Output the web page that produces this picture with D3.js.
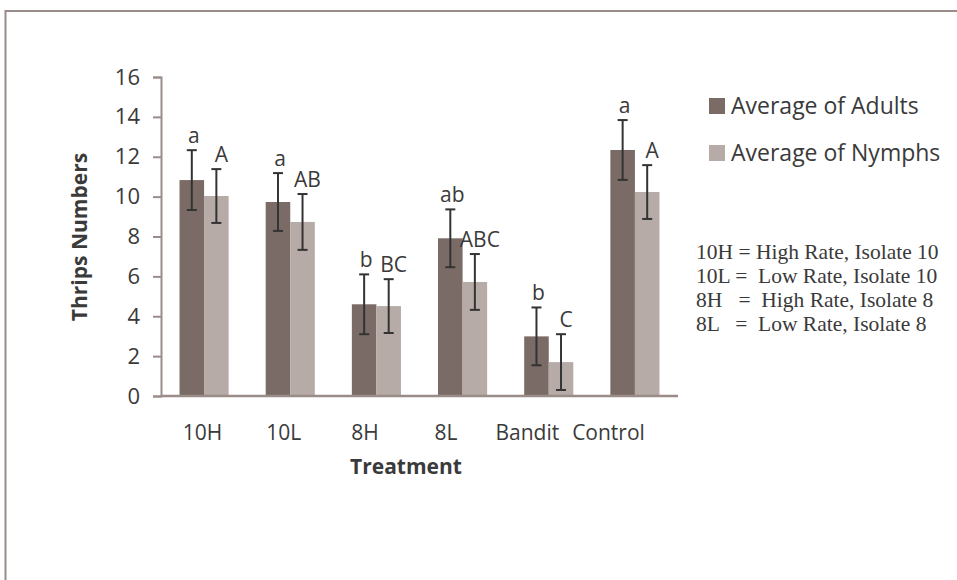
<!DOCTYPE html>
<html>
<head>
<meta charset="utf-8">
<script src="https://cdn.jsdelivr.net/npm/d3@7"></script>
<style>
  html, body { margin: 0; padding: 0; background: #fff; }
  svg { display: block; }
</style>
</head>
<body>
<svg id="chart" width="957" height="580"></svg>
<script>
// ---- data ----
const categories = ["10H", "10L", "8H", "8L", "Bandit", "Control"];
const seriesNames = ["Average of Adults", "Average of Nymphs"];
const adults = [10.83, 9.73, 4.6, 7.91, 2.99, 12.34];
const nymphs = [10.03, 8.73, 4.51, 5.72, 1.7, 10.23];
const adultsErr = [1.5, 1.45, 1.5, 1.45, 1.45, 1.5];
const nymphsErr = [1.35, 1.4, 1.35, 1.4, 1.4, 1.35];
const adultsLetters = ["a", "a", "b", "ab", "b", "a"];
const nymphsLetters = ["A", "AB", "BC", "ABC", "C", "A"];
const yTicks = [0, 2, 4, 6, 8, 10, 12, 14, 16];
const noteLines = [
  "10H = High Rate, Isolate 10",
  "10L =  Low Rate, Isolate 10",
  "8H   =  High Rate, Isolate 8",
  "8L   =  Low Rate, Isolate 8"
];

// ---- styles ----
const colAdults = "#7a6b67";
const colNymphs = "#b6aba7";
const axisCol = "#9a8c89";
const textCol = "#3a3a3a";
const sans = "'Open Sans', 'Noto Sans', sans-serif";
const serif = "'Liberation Serif', 'Times New Roman', serif";

const svg = d3.select("#chart");

// outer frame (only top and left edges visible)
svg.append("rect")
  .attr("x", 5.5).attr("y", 11)
  .attr("width", 1000).attr("height", 700)
  .attr("fill", "none").attr("stroke", axisCol).attr("stroke-width", 2);

const x0 = d3.scaleBand().domain(categories).range([161, 678]).padding(0);
const bw = x0.bandwidth();
const x1 = d3.scaleBand().domain(seriesNames).range([bw * 0.215, bw * 0.785]).padding(0);
const y = d3.scaleLinear().domain([0, 16]).range([396, 77]);
// category labels are spaced a little tighter than the bars in the original
const xLab = d3.scalePoint().domain(categories).range([202, 608]);

const series = [
  { name: seriesNames[0], values: adults, err: adultsErr, letters: adultsLetters, color: colAdults, dx: 2 },
  { name: seriesNames[1], values: nymphs, err: nymphsErr, letters: nymphsLetters, color: colNymphs, dx: 5 }
];

// bars
const g = svg.append("g");
series.forEach(s => {
  const rows = categories.map((c, i) => ({ c, v: s.values[i], e: s.err[i], l: s.letters[i] }));
  g.selectAll(null).data(rows).enter().append("rect")
    .attr("x", d => x0(d.c) + x1(s.name))
    .attr("y", d => y(d.v))
    .attr("width", x1.bandwidth())
    .attr("height", d => y(0) - y(d.v))
    .attr("fill", s.color);
});

// y axis
const yAxis = d3.axisLeft(y).tickValues(yTicks).tickSize(8).tickPadding(13).tickFormat(d3.format("d"));
const yg = svg.append("g").attr("transform", "translate(161,0)").call(yAxis);
yg.select(".domain").attr("stroke", axisCol).attr("stroke-width", 2);
yg.selectAll(".tick line").attr("stroke", axisCol).attr("stroke-width", 2);
yg.selectAll(".tick text").attr("fill", textCol).attr("font-family", sans).attr("font-size", 22);

// x axis
const xAxis = d3.axisBottom(xLab).tickSize(0).tickPadding(0);
const xg = svg.append("g").attr("transform", "translate(0,396)").call(xAxis);
xg.select(".domain").remove();
xg.selectAll(".tick text").attr("fill", textCol).attr("font-family", sans).attr("font-size", 21)
  .attr("dy", 0).attr("y", 44);
svg.append("line").attr("x1", x0.range()[0]).attr("x2", x0.range()[1]).attr("y1", y(0)).attr("y2", y(0))
  .attr("stroke", axisCol).attr("stroke-width", 2.5);

// error bars + letters
series.forEach(s => {
  const rows = categories.map((c, i) => ({ c, v: s.values[i], e: s.err[i], l: s.letters[i] }));
  const cx = d => x0(d.c) + x1(s.name) + x1.bandwidth() / 2;
  const eg = g.selectAll(null).data(rows).enter().append("g").attr("stroke", "#333").attr("stroke-width", 2);
  eg.append("line").attr("x1", cx).attr("x2", cx).attr("y1", d => y(d.v + d.e)).attr("y2", d => y(d.v - d.e));
  eg.append("line").attr("x1", d => cx(d) - 5).attr("x2", d => cx(d) + 5).attr("y1", d => y(d.v + d.e)).attr("y2", d => y(d.v + d.e));
  eg.append("line").attr("x1", d => cx(d) - 5).attr("x2", d => cx(d) + 5).attr("y1", d => y(d.v - d.e)).attr("y2", d => y(d.v - d.e));
  g.selectAll(null).data(rows).enter().append("text")
    .attr("x", d => cx(d) + s.dx)
    .attr("y", d => y(d.v + d.e) - 7)
    .attr("text-anchor", "middle")
    .attr("font-family", sans).attr("font-size", 21).attr("fill", textCol)
    .text(d => d.l);
});

// axis titles
svg.append("text").attr("x", 406).attr("y", 474).attr("text-anchor", "middle")
  .attr("font-family", sans).attr("font-weight", "bold").attr("font-size", 21).attr("fill", textCol)
  .text("Treatment");
svg.append("text").attr("transform", "translate(87,237) rotate(-90)").attr("text-anchor", "middle")
  .attr("font-family", sans).attr("font-weight", "bold").attr("font-size", 21).attr("fill", textCol)
  .text("Thrips Numbers");

// legend
const lg = svg.append("g");
series.forEach((s, i) => {
  const yy = 114 + i * 47;
  lg.append("rect").attr("x", 709).attr("y", yy - 16).attr("width", 16).attr("height", 16).attr("fill", s.color);
  lg.append("text").attr("x", 731).attr("y", yy)
    .attr("font-family", sans).attr("font-size", 23).attr("fill", textCol).text(s.name);
});

// note
svg.append("g").selectAll("text").data(noteLines).enter().append("text")
  .attr("x", 696).attr("y", (d, i) => 259 + i * 24)
  .attr("font-family", serif).attr("font-size", 21.5).attr("fill", textCol)
  .style("white-space", "pre")
  .text(d => d);
</script>
</body>
</html>
